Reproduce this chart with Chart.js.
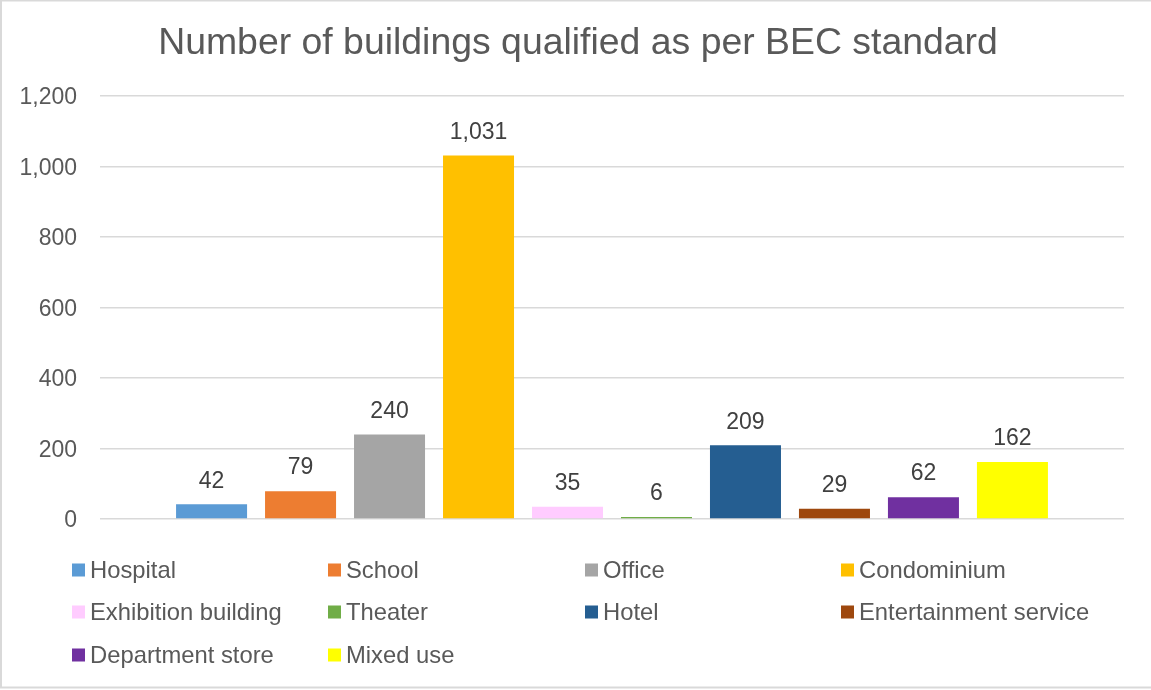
<!DOCTYPE html>
<html>
<head>
<meta charset="utf-8">
<script src="https://cdn.jsdelivr.net/npm/chart.js@4/dist/chart.umd.min.js"></script>
<style>
  html, body { margin: 0; padding: 0; background: #fff; }
  #wrap { width: 1151px; height: 690px; position: relative; }
</style>
</head>
<body>
<div id="wrap"><canvas id="chart" width="1151" height="690"></canvas></div>
<script>
const categories = ["Hospital", "School", "Office", "Condominium", "Exhibition building",
  "Theater", "Hotel", "Entertainment service", "Department store", "Mixed use"];
const buildingCounts = [42, 79, 240, 1031, 35, 6, 209, 29, 62, 162];
const barColors = ["#5B9BD5", "#ED7D31", "#A5A5A5", "#FFC000", "#FFCCFF",
  "#70AD47", "#255E91", "#9E480E", "#7030A0", "#FFFF00"];
const yTicks = [0, 200, 400, 600, 800, 1000, 1200];
const chartTitle = "Number of buildings qualified as per BEC standard";

const FONT = "Arial, 'Liberation Sans', sans-serif";

// white background, outer frame and the title (centred on the whole picture)
const framePlugin = {
  id: "frame",
  beforeDraw(chart) {
    const ctx = chart.ctx;
    ctx.save();
    ctx.fillStyle = "#fff";
    ctx.fillRect(0, 0, chart.width, chart.height);
    ctx.strokeStyle = "#d9d9d9";
    ctx.lineWidth = 2;
    ctx.strokeRect(1, 0.5, chart.width + 10, 687);
    ctx.font = "37.4px " + FONT;
    ctx.fillStyle = "#595959";
    ctx.textAlign = "center";
    ctx.textBaseline = "middle";
    ctx.fillText(chartTitle, 578, 44);
    ctx.restore();
  }
};

// value labels above each bar
const valueLabels = {
  id: "valueLabels",
  afterDatasetsDraw(chart) {
    const ctx = chart.ctx;
    ctx.save();
    ctx.font = "23px " + FONT;
    ctx.fillStyle = "#404040";
    ctx.textAlign = "center";
    ctx.textBaseline = "middle";
    chart.data.datasets.forEach((ds, i) => {
      const bar = chart.getDatasetMeta(i).data[0];
      ctx.fillText(ds.data[0].toLocaleString("en-US"), bar.x, bar.y - 23);
    });
    ctx.restore();
  }
};

// legend in a 4 column grid, like Excel lays it out
const gridLegend = {
  id: "gridLegend",
  afterDraw(chart) {
    const ctx = chart.ctx;
    const colX = [72, 328, 585, 841];
    const rowY = [570, 612, 655];
    ctx.save();
    ctx.font = "23.8px " + FONT;
    ctx.textBaseline = "middle";
    ctx.textAlign = "left";
    chart.data.datasets.forEach((ds, i) => {
      const x = colX[i % 4];
      const y = rowY[Math.floor(i / 4)];
      ctx.fillStyle = ds.backgroundColor;
      ctx.fillRect(x, y - 6.5, 13, 13);
      ctx.fillStyle = "#595959";
      ctx.fillText(ds.label, x + 18, y + 1);
    });
    ctx.restore();
  }
};

new Chart(document.getElementById("chart"), {
  type: "bar",
  data: {
    labels: [""],
    datasets: categories.map((name, i) => ({
      label: name,
      data: [buildingCounts[i]],
      backgroundColor: barColors[i],
      borderWidth: 0,
      categoryPercentage: 0.869,
      barPercentage: 0.798
    }))
  },
  options: {
    responsive: false,
    animation: false,
    devicePixelRatio: 1,
    layout: { padding: { top: 96, left: 0, right: 27, bottom: 171 } },
    plugins: {
      legend: { display: false },
      tooltip: { enabled: false },
      title: { display: false }
    },
    scales: {
      x: { display: false },
      y: {
        min: 0,
        max: 1200,
        afterBuildTicks(scale) {
          scale.ticks = yTicks.map(v => ({ value: v }));
        },
        afterFit(scale) { scale.width = 100; },
        border: { display: false },
        grid: { color: "#d9d9d9", lineWidth: 1.5, drawTicks: false },
        ticks: {
          padding: 23,
          labelOffset: 2,
          color: "#595959",
          font: { family: FONT, size: 23 },
          callback: v => v.toLocaleString("en-US")
        }
      }
    }
  },
  plugins: [framePlugin, valueLabels, gridLegend]
});
</script>
</body>
</html>
